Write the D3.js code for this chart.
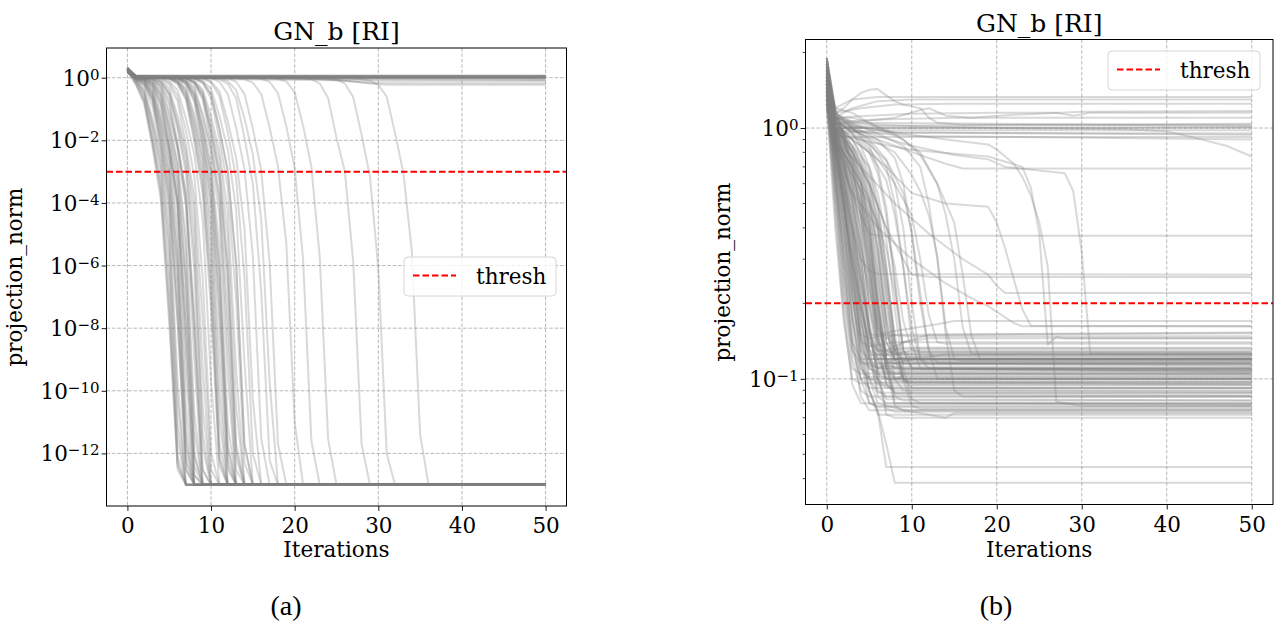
<!DOCTYPE html>
<html><head><meta charset="utf-8">
<script src="https://cdn.jsdelivr.net/npm/d3@7"></script>
<style>body{margin:0;background:#fff}svg{display:block}</style>
</head><body>
<svg id="c" width="1275" height="622"></svg>
<script>
// ---------------- data ----------------
const xTicks = [0, 10, 20, 30, 40, 50];
const leftYTickExp = [0, -2, -4, -6, -8, -10, -12];
const rightYTickExp = [0, -1];
const threshA = 1e-3;
const threshB = 0.2;
const titleText = "GN_b [RI]";
const xLabel = "Iterations";
const yLabel = "projection_norm";
const legendLabel = "thresh";
const captions = ["(a)", "(b)"];

// panel (a): each run = [iteration, projection_norm] vertices
const runsA = [
[[0,1.9],[1,0.8],[2,0.3],[3,0.02],[4,1e-3],[5,2e-6],[6,3e-12],[7,1e-13],[50,1e-13]],
[[0,1.6],[1,0.65],[2,0.18],[3,0.008],[4,2e-4],[5,3e-8],[6,4e-13],[7,1e-13],[50,1e-13]],
[[0,2.1],[1,0.9],[2,0.45],[3,0.05],[4,4e-3],[5,5e-5],[6,2e-10],[7,1e-13],[50,1e-13]],
[[0,1.7],[1,0.75],[2,0.25],[3,0.012],[4,5e-4],[5,4e-7],[6,8e-13],[7,1e-13],[50,1e-13]],
[[0,1.5],[1,0.85],[2,0.38],[3,0.035],[4,2.5e-3],[5,1.5e-5],[6,5e-11],[7,1e-13],[50,1e-13]],
[[0,1.8],[1,0.7],[2,0.2],[3,0.01],[4,3e-4],[5,1e-7],[6,5e-13],[7,1e-13],[50,1e-13]],
[[0,2.0],[1,0.88],[2,0.33],[3,0.028],[4,1.6e-3],[5,5e-6],[6,8e-12],[7,1e-13],[50,1e-13]],
[[0,1.75],[1,0.6],[2,0.15],[3,0.006],[4,1.2e-4],[5,1.5e-8],[6,3e-13],[7,1e-13],[50,1e-13]],
[[0,1.8],[1,0.95],[2,0.7],[3,0.26],[4,0.018],[5,7e-4],[6,8e-7],[7,1.5e-12],[8,1e-13],[50,1e-13]],
[[0,1.6],[1,0.98],[2,0.82],[3,0.4],[4,0.05],[5,4e-3],[6,6e-5],[7,4e-10],[8,1e-13],[50,1e-13]],
[[0,2.0],[1,0.9],[2,0.6],[3,0.18],[4,0.007],[5,1.5e-4],[6,2e-8],[7,3e-13],[8,1e-13],[50,1e-13]],
[[0,1.7],[1,1.0],[2,0.76],[3,0.32],[4,0.03],[5,1.8e-3],[6,4e-6],[7,6e-12],[8,1e-13],[50,1e-13]],
[[0,1.55],[1,0.96],[2,0.68],[3,0.22],[4,0.012],[5,4e-4],[6,2.5e-7],[7,7e-13],[8,1e-13],[50,1e-13]],
[[0,1.9],[1,1.02],[2,0.86],[3,0.48],[4,0.07],[5,6e-3],[6,1.2e-4],[7,2e-9],[8,1e-13],[50,1e-13]],
[[0,1.75],[1,0.94],[2,0.64],[3,0.2],[4,0.01],[5,2.5e-4],[6,6e-8],[7,5e-13],[8,1e-13],[50,1e-13]],
[[0,1.65],[1,0.99],[2,0.8],[3,0.36],[4,0.04],[5,2.8e-3],[6,1.5e-5],[7,3e-11],[8,1e-13],[50,1e-13]],
[[0,2.05],[1,0.97],[2,0.74],[3,0.28],[4,0.022],[5,1e-3],[6,1.5e-6],[7,2.5e-12],[8,1e-13],[50,1e-13]],
[[0,1.85],[1,0.92],[2,0.55],[3,0.12],[4,0.006],[5,1e-4],[6,1.5e-8],[7,3e-13],[8,1e-13],[50,1e-13]],
[[0,1.8],[1,1.06],[2,0.94],[3,0.68],[4,0.26],[5,0.02],[6,8e-4],[7,5e-7],[8,1e-12],[9,1e-13],[50,1e-13]],
[[0,1.6],[1,1.04],[2,0.9],[3,0.6],[4,0.17],[5,0.006],[6,1.2e-4],[7,1e-8],[8,2e-13],[9,1e-13],[50,1e-13]],
[[0,1.95],[1,1.08],[2,0.98],[3,0.8],[4,0.42],[5,0.06],[6,5e-3],[7,8e-5],[8,1e-9],[9,1e-13],[50,1e-13]],
[[0,1.7],[1,1.05],[2,0.93],[3,0.7],[4,0.3],[5,0.028],[6,1.5e-3],[7,3e-6],[8,5e-12],[9,1e-13],[50,1e-13]],
[[0,1.5],[1,1.03],[2,0.88],[3,0.55],[4,0.15],[5,0.009],[6,2.5e-4],[7,8e-8],[8,4e-13],[9,1e-13],[50,1e-13]],
[[0,2.1],[1,1.1],[2,0.99],[3,0.84],[4,0.5],[5,0.08],[6,7e-3],[7,2e-4],[8,6e-9],[9,1e-13],[50,1e-13]],
[[0,1.85],[1,1.06],[2,0.96],[3,0.74],[4,0.34],[5,0.035],[6,2e-3],[7,8e-6],[8,2e-11],[9,1e-13],[50,1e-13]],
[[0,1.65],[1,1.04],[2,0.92],[3,0.64],[4,0.22],[5,0.014],[6,5e-4],[7,3e-7],[8,8e-13],[9,1e-13],[50,1e-13]],
[[0,1.7],[1,1.02],[2,0.85],[3,0.52],[4,0.12],[5,0.005],[6,1e-4],[7,1e-8],[8,2e-13],[9,1e-13],[50,1e-13]],
[[0,1.75],[1,1.07],[2,1.0],[3,0.92],[4,0.7],[5,0.28],[6,0.022],[7,9e-4],[8,7e-7],[9,1.5e-12],[10,1e-13],[50,1e-13]],
[[0,1.6],[1,1.05],[2,0.98],[3,0.88],[4,0.6],[5,0.19],[6,0.008],[7,1.8e-4],[8,3e-8],[9,3e-13],[10,1e-13],[50,1e-13]],
[[0,1.9],[1,1.09],[3,0.98],[4,0.82],[5,0.45],[6,0.06],[7,4.5e-3],[8,5e-5],[9,6e-10],[10,1e-13],[50,1e-13]],
[[0,1.55],[1,1.04],[3,0.94],[4,0.72],[5,0.3],[6,0.03],[7,1.5e-3],[8,2.5e-6],[9,4e-12],[10,1e-13],[50,1e-13]],
[[0,2.0],[1,1.08],[3,0.96],[4,0.76],[5,0.36],[6,0.04],[7,2.8e-3],[8,1.2e-5],[9,3e-11],[10,1e-13],[50,1e-13]],
[[0,1.6],[1,1.05],[2,0.97],[3,0.86],[4,0.55],[5,0.14],[6,0.006],[7,1e-4],[8,1.5e-8],[9,3e-13],[10,1e-13],[50,1e-13]],
[[0,1.7],[1,1.08],[4,0.95],[5,0.7],[6,0.27],[7,0.02],[8,7e-4],[9,4e-7],[10,1e-12],[11,1e-13],[50,1e-13]],
[[0,1.85],[1,1.06],[4,0.97],[5,0.78],[6,0.4],[7,0.05],[8,3.5e-3],[9,3e-5],[10,2e-10],[11,1e-13],[50,1e-13]],
[[0,1.6],[1,1.07],[3,0.98],[4,0.9],[5,0.6],[6,0.18],[7,0.007],[8,1.5e-4],[9,2e-8],[10,3e-13],[11,1e-13],[50,1e-13]],
[[0,1.8],[1,1.1],[5,0.97],[6,0.74],[7,0.3],[8,0.025],[9,1.1e-3],[10,1.3e-6],[11,2e-12],[12,1e-13],[50,1e-13]],
[[0,1.6],[1,1.07],[4,0.97],[5,0.9],[6,0.62],[7,0.2],[8,0.009],[9,2e-4],[10,4e-8],[11,4e-13],[12,1e-13],[50,1e-13]],
[[0,1.95],[1,1.12],[5,0.99],[6,0.82],[7,0.46],[8,0.07],[9,5.5e-3],[10,7e-5],[11,1e-9],[12,1e-13],[50,1e-13]],
[[0,1.7],[1,1.08],[5,0.96],[6,0.7],[7,0.26],[8,0.018],[9,6e-4],[10,3e-7],[11,8e-13],[12,1e-13],[50,1e-13]],
[[0,1.5],[1,1.05],[5,0.97],[6,0.77],[7,0.35],[8,0.036],[9,2.2e-3],[10,6e-6],[11,1.2e-11],[12,1e-13],[50,1e-13]],
[[0,2.05],[1,1.1],[5,0.95],[6,0.68],[7,0.22],[8,0.012],[9,3.5e-4],[10,1.2e-7],[11,6e-13],[12,1e-13],[50,1e-13]],
[[0,1.65],[1,1.09],[5,0.98],[6,0.8],[7,0.4],[8,0.048],[9,3e-3],[10,2e-5],[11,8e-11],[12,1e-13],[50,1e-13]],
[[0,1.75],[1,1.1],[6,0.97],[7,0.74],[8,0.3],[9,0.024],[10,1e-3],[11,9e-7],[12,1.8e-12],[13,1e-13],[50,1e-13]],
[[0,1.9],[1,1.12],[6,0.98],[7,0.8],[8,0.42],[9,0.055],[10,4e-3],[11,4e-5],[12,3e-10],[13,1e-13],[50,1e-13]],
[[0,1.55],[1,1.06],[5,0.98],[6,0.9],[7,0.6],[8,0.17],[9,0.007],[10,1.3e-4],[11,1.5e-8],[12,3e-13],[13,1e-13],[50,1e-13]],
[[0,1.7],[1,1.09],[6,0.96],[7,0.72],[8,0.28],[9,0.02],[10,8e-4],[11,6e-7],[12,1.3e-12],[13,1e-13],[50,1e-13]],
[[0,2.0],[1,1.11],[6,0.99],[7,0.83],[8,0.48],[9,0.07],[10,6e-3],[11,1.2e-4],[12,3e-9],[13,1e-13],[50,1e-13]],
[[0,1.6],[1,1.07],[6,0.95],[7,0.67],[8,0.23],[9,0.013],[10,4e-4],[11,1.5e-7],[12,6e-13],[13,1e-13],[50,1e-13]],
[[0,1.8],[1,1.1],[6,0.97],[7,0.76],[8,0.33],[9,0.032],[10,1.8e-3],[11,4e-6],[12,9e-12],[13,1e-13],[50,1e-13]],
[[0,1.45],[1,1.05],[6,0.94],[7,0.64],[8,0.2],[9,0.01],[10,2.5e-4],[11,5e-8],[12,4e-13],[13,1e-13],[50,1e-13]],
[[0,1.7],[1,1.1],[7,0.97],[8,0.74],[9,0.3],[10,0.024],[11,1.1e-3],[12,1.3e-6],[13,2e-12],[14,1e-13],[50,1e-13]],
[[0,1.85],[1,1.12],[7,0.98],[8,0.8],[9,0.42],[10,0.06],[11,4.5e-3],[12,5e-5],[13,5e-10],[14,1e-13],[50,1e-13]],
[[0,1.6],[1,1.07],[7,0.95],[8,0.68],[9,0.24],[10,0.015],[11,5e-4],[12,2e-7],[13,7e-13],[14,1e-13],[50,1e-13]],
[[0,1.95],[1,1.1],[6,0.98],[7,0.9],[8,0.62],[9,0.2],[10,0.008],[11,1.6e-4],[12,2e-8],[13,3e-13],[14,1e-13],[50,1e-13]],
[[0,1.5],[1,1.06],[7,0.97],[8,0.77],[9,0.35],[10,0.035],[11,2.4e-3],[12,9e-6],[13,3e-11],[14,1e-13],[50,1e-13]],
[[0,1.75],[1,1.09],[7,0.96],[8,0.7],[9,0.27],[10,0.02],[11,8e-4],[12,6e-7],[13,1.2e-12],[14,1e-13],[50,1e-13]],
[[0,1.8],[1,1.1],[8,0.97],[9,0.74],[10,0.3],[11,0.024],[12,1.1e-3],[13,1.3e-6],[14,2e-12],[15,1e-13],[50,1e-13]],
[[0,1.6],[1,1.08],[7,0.98],[8,0.92],[9,0.66],[10,0.22],[11,0.011],[12,3e-4],[13,8e-8],[14,5e-13],[15,1e-13],[50,1e-13]],
[[0,1.9],[1,1.11],[8,0.98],[9,0.8],[10,0.44],[11,0.06],[12,5e-3],[13,6e-5],[14,8e-10],[15,1e-13],[50,1e-13]],
[[0,1.7],[1,1.09],[8,0.97],[9,0.73],[10,0.29],[11,0.023],[12,1e-3],[13,1e-6],[14,1.8e-12],[15,1e-13],[50,1e-13]],
[[0,1.75],[1,1.1],[9,0.97],[10,0.76],[11,0.36],[12,0.04],[13,2.8e-3],[14,1.5e-5],[15,5e-11],[16,1e-13],[50,1e-13]],
[[0,1.55],[1,1.07],[9,0.96],[10,0.7],[11,0.26],[12,0.018],[13,6e-4],[14,4e-7],[15,1e-12],[16,1e-13],[50,1e-13]],
[[0,1.85],[1,1.1],[10,0.97],[11,0.74],[12,0.3],[13,0.025],[14,1.2e-3],[15,2e-6],[16,3e-12],[17,1e-13],[50,1e-13]],
[[0,1.65],[1,1.09],[11,0.97],[12,0.78],[13,0.4],[14,0.05],[15,3.5e-3],[16,3e-5],[17,2e-10],[18,1e-13],[50,1e-13]],
[[0,1.9],[1,1.11],[10,0.98],[11,0.9],[12,0.64],[13,0.22],[14,0.012],[15,4e-4],[16,1.5e-7],[17,6e-13],[18,1e-13],[50,1e-13]],
[[0,1.7],[1,1.1],[12,0.97],[13,0.74],[14,0.3],[15,0.024],[16,1.1e-3],[17,1.3e-6],[18,2e-12],[19,1e-13],[50,1e-13]],
[[0,1.8],[1,1.1],[13,0.98],[14,0.9],[15,0.7],[16,0.3],[17,0.026],[18,1.5e-3],[19,5e-6],[20,1e-11],[21,1e-13],[50,1e-13]],
[[0,1.6],[1,1.08],[15,0.98],[16,0.92],[17,0.74],[18,0.32],[19,0.028],[20,1.3e-3],[21,1.6e-6],[22,2.5e-12],[23,1e-13],[50,1e-13]],
[[0,1.9],[1,1.12],[17,0.99],[18,0.93],[19,0.76],[20,0.34],[21,0.03],[22,1.4e-3],[23,1.8e-6],[24,2.8e-12],[25,1e-13],[50,1e-13]],
[[0,1.75],[1,1.1],[20,1.0],[21,0.97],[22,0.9],[23,0.65],[24,0.22],[25,0.012],[26,1e-3],[27,1.3e-6],[28,2e-12],[29,1e-13],[50,1e-13]],
[[0,1.65],[1,1.09],[23,0.99],[24,0.96],[25,0.88],[26,0.65],[27,0.24],[28,0.015],[29,7e-4],[30,8e-7],[31,1e-12],[32,1e-13],[50,1e-13]],
[[0,1.8],[1,1.1],[26,0.98],[27,0.95],[28,0.9],[29,0.8],[30,0.59],[31,0.25],[32,0.017],[33,9e-4],[34,3e-6],[35,4e-12],[36,1e-13],[50,1e-13]],
[[0,1.9],[1,1.14],[10,1.12],[50,1.1]],
[[0,1.6],[1,1.06],[20,1.03],[50,1.02]],
[[0,2.0],[1,1.16],[50,1.15]],
[[0,1.75],[1,1.1],[15,1.08],[50,1.07]],
[[0,1.5],[1,1.02],[50,1.0]],
[[0,1.85],[1,1.12],[8,1.1],[50,1.12]],
[[0,1.65],[1,1.08],[25,1.05],[50,1.05]],
[[0,2.1],[1,1.18],[50,1.17]],
[[0,1.55],[1,1.0],[12,0.98],[50,0.97]],
[[0,1.7],[1,1.04],[30,1.02],[50,1.01]],
[[0,1.95],[1,1.1],[50,1.09]],
[[0,1.8],[1,1.05],[20,0.95],[50,0.9]],
[[0,1.6],[1,1.0],[15,0.92],[50,0.85]],
[[0,1.45],[1,0.98],[10,0.9],[30,0.8],[50,0.78]],
[[0,1.7],[1,1.0],[22,0.92],[26,0.8],[28,0.7],[30,0.62],[31,0.6],[50,0.6]],
[[0,1.9],[1,1.08],[18,1.0],[24,0.9],[27,0.75],[29,0.68],[50,0.66]],
[[0,1.75],[1,1.12],[50,1.13]],
[[0,1.5],[1,1.03],[40,1.0],[50,0.99]],
[[0,2.05],[1,1.13],[50,1.11]],
[[0,1.65],[1,1.07],[35,1.04],[50,1.04]]
];

// panel (b)
const runsB = [
[[0,1.25],[1,0.4],[2,0.17],[3,0.1],[4,0.096],[50,0.096]],
[[0,1.4],[1,0.5],[2,0.2],[3,0.11],[4,0.105],[50,0.105]],
[[0,1.6],[1,0.6],[2,0.24],[3,0.12],[4,0.09],[5,0.085],[50,0.085]],
[[0,1.3],[1,0.45],[2,0.18],[3,0.095],[4,0.08],[50,0.079]],
[[0,1.7],[1,0.7],[2,0.3],[3,0.14],[4,0.1],[5,0.092],[50,0.092]],
[[0,1.5],[1,0.55],[2,0.22],[3,0.13],[4,0.115],[50,0.115]],
[[0,1.8],[1,0.8],[2,0.4],[3,0.18],[4,0.11],[5,0.1],[50,0.1]],
[[0,1.35],[1,0.65],[2,0.3],[3,0.15],[4,0.085],[5,0.075],[50,0.075]],
[[0,1.55],[1,0.75],[2,0.38],[3,0.2],[4,0.13],[5,0.12],[50,0.12]],
[[0,1.9],[1,0.9],[2,0.5],[3,0.25],[4,0.14],[5,0.11],[6,0.105],[50,0.104]],
[[0,1.45],[1,0.85],[2,0.45],[3,0.22],[4,0.12],[5,0.08],[6,0.077],[50,0.077]],
[[0,1.65],[1,0.95],[2,0.55],[3,0.28],[4,0.15],[5,0.125],[50,0.124]],
[[0,1.2],[1,0.7],[2,0.35],[3,0.17],[4,0.11],[5,0.1],[6,0.097],[50,0.097]],
[[0,1.75],[1,1.0],[2,0.6],[3,0.32],[4,0.17],[5,0.12],[6,0.11],[50,0.11]],
[[0,1.5],[1,0.9],[2,0.5],[3,0.3],[4,0.18],[5,0.12],[6,0.09],[7,0.085],[50,0.085]],
[[0,1.6],[1,1.05],[2,0.7],[3,0.4],[4,0.22],[5,0.13],[6,0.115],[50,0.115]],
[[0,1.3],[1,0.8],[2,0.55],[3,0.35],[4,0.2],[5,0.12],[6,0.1],[7,0.092],[50,0.092]],
[[0,1.85],[1,1.1],[2,0.75],[3,0.45],[4,0.25],[5,0.15],[6,0.13],[7,0.128],[50,0.128]],
[[0,1.4],[1,0.95],[2,0.65],[3,0.42],[4,0.26],[5,0.16],[6,0.1],[7,0.083],[50,0.082]],
[[0,1.55],[1,1.0],[2,0.8],[3,0.55],[4,0.33],[5,0.19],[6,0.13],[7,0.12],[50,0.12]],
[[0,1.7],[1,1.1],[2,0.85],[3,0.6],[4,0.38],[5,0.2],[6,0.12],[7,0.1],[8,0.098],[50,0.098]],
[[0,1.25],[1,0.9],[2,0.7],[3,0.5],[4,0.3],[5,0.17],[6,0.11],[7,0.072],[8,0.07],[50,0.07]],
[[0,1.5],[1,1.0],[2,0.9],[3,0.7],[4,0.5],[5,0.3],[6,0.17],[7,0.13],[8,0.126],[50,0.126]],
[[0,1.8],[1,1.15],[2,0.95],[3,0.75],[4,0.55],[5,0.33],[6,0.18],[7,0.12],[8,0.11],[50,0.108]],
[[0,1.35],[1,0.85],[2,0.6],[3,0.4],[4,0.24],[5,0.15],[6,0.15],[8,0.155],[13,0.165],[15,0.17],[50,0.17]],
[[0,1.6],[1,0.9],[2,0.5],[3,0.25],[4,0.15],[5,0.145],[7,0.15],[10,0.148],[50,0.148]],
[[0,1.45],[1,0.75],[2,0.42],[3,0.21],[4,0.14],[5,0.135],[8,0.14],[50,0.14]],
[[0,1.9],[1,1.2],[2,0.9],[3,0.6],[4,0.36],[5,0.2],[6,0.14],[7,0.116],[50,0.116]],
[[0,1.3],[1,0.6],[2,0.32],[3,0.17],[4,0.1],[5,0.08],[6,0.078],[50,0.078]],
[[0,1.65],[1,0.85],[2,0.48],[3,0.26],[4,0.15],[5,0.1],[6,0.088],[50,0.088]],
[[0,1.5],[1,0.8],[2,0.5],[3,0.3],[4,0.2],[5,0.14],[6,0.12],[7,0.105],[50,0.105]],
[[0,1.75],[1,0.95],[2,0.62],[3,0.4],[4,0.25],[5,0.16],[6,0.12],[7,0.12],[9,0.118],[50,0.118]],
[[0,1.4],[1,1.0],[2,0.75],[3,0.52],[4,0.34],[5,0.22],[6,0.14],[7,0.095],[8,0.088],[50,0.088]],
[[0,1.2],[1,0.55],[2,0.26],[3,0.14],[4,0.12],[50,0.12]],
[[0,1.55],[1,0.65],[2,0.28],[3,0.13],[4,0.1],[5,0.102],[50,0.102]],
[[0,1.7],[1,1.05],[2,0.78],[3,0.52],[4,0.3],[5,0.16],[6,0.1],[7,0.076],[8,0.074],[50,0.074]],
[[0,1.35],[1,0.9],[2,0.62],[3,0.38],[4,0.22],[5,0.13],[6,0.095],[7,0.094],[50,0.094]],
[[0,1.6],[1,1.1],[2,0.9],[3,0.68],[4,0.45],[5,0.27],[6,0.16],[7,0.125],[8,0.12],[50,0.12]],
[[0,1.45],[1,0.95],[2,0.7],[3,0.45],[4,0.27],[5,0.15],[6,0.11],[7,0.113],[9,0.11],[50,0.11]],
[[0,1.8],[1,1.0],[2,0.65],[3,0.38],[4,0.2],[5,0.13],[6,0.085],[7,0.08],[50,0.08]],
[[0,1.4],[1,0.8],[2,0.45],[3,0.23],[4,0.13],[5,0.09],[6,0.074],[7,0.0445],[50,0.0445]],
[[0,1.55],[1,0.9],[2,0.5],[3,0.26],[4,0.14],[5,0.09],[6,0.075],[7,0.055],[8,0.0385],[50,0.0385]],
[[0,1.3],[1,0.75],[2,0.48],[3,0.3],[4,0.19],[5,0.14],[6,0.13],[7,0.13],[9,0.133],[50,0.133]],
[[0,1.65],[1,1.0],[2,0.72],[3,0.5],[4,0.34],[5,0.23],[6,0.16],[7,0.145],[8,0.15],[50,0.152]],
[[0,1.5],[1,0.85],[2,0.55],[3,0.34],[4,0.2],[5,0.13],[6,0.125],[50,0.125]],
[[0,1.25],[1,0.7],[2,0.4],[3,0.22],[4,0.12],[5,0.09],[6,0.072],[50,0.072]],
[[0,1.9],[1,1.2],[2,0.95],[3,0.7],[4,0.45],[5,0.26],[6,0.15],[7,0.11],[8,0.1],[50,0.1]],
[[0,1.4],[1,0.8],[2,0.5],[3,0.28],[4,0.17],[5,0.115],[6,0.11],[50,0.11]],
[[0,1.7],[1,0.9],[2,0.55],[3,0.3],[4,0.15],[5,0.11],[6,0.107],[50,0.107]],
[[0,1.35],[1,0.65],[2,0.35],[3,0.18],[4,0.118],[5,0.112],[50,0.112]],
[[0,1.5],[1,0.95],[2,0.8],[3,0.7],[4,0.6],[5,0.45],[6,0.26],[7,0.14],[8,0.12],[50,0.12]],
[[0,1.7],[1,1.0],[2,0.85],[3,0.72],[4,0.55],[5,0.35],[6,0.18],[7,0.11],[8,0.105],[50,0.105]],
[[0,1.4],[1,0.9],[2,0.75],[3,0.6],[4,0.48],[5,0.3],[6,0.15],[7,0.095],[8,0.09],[50,0.09]],
[[0,1.8],[1,1.1],[2,0.95],[3,0.85],[4,0.72],[5,0.55],[6,0.38],[7,0.2],[8,0.13],[9,0.118],[50,0.118]],
[[0,1.6],[1,0.98],[2,0.82],[3,0.66],[4,0.5],[5,0.3],[6,0.16],[7,0.125],[8,0.13],[10,0.132],[50,0.132]],
[[0,1.3],[1,0.85],[2,0.7],[3,0.55],[4,0.4],[5,0.24],[6,0.13],[7,0.1],[50,0.1]],
[[0,1.55],[1,1.05],[2,0.92],[3,0.8],[4,0.65],[5,0.48],[6,0.3],[7,0.16],[8,0.115],[50,0.113]],
[[0,1.75],[1,1.1],[3,0.95],[4,0.85],[5,0.7],[6,0.5],[7,0.28],[8,0.14],[9,0.1],[10,0.097],[50,0.097]],
[[0,1.45],[1,0.92],[2,0.78],[3,0.62],[4,0.45],[5,0.28],[6,0.15],[7,0.115],[8,0.12],[11,0.123],[50,0.123]],
[[0,1.65],[1,1.0],[2,0.88],[3,0.75],[4,0.6],[5,0.42],[6,0.22],[7,0.12],[8,0.085],[9,0.082],[50,0.082]],
[[0,1.9],[1,1.15],[3,1.0],[5,0.85],[6,0.7],[7,0.48],[8,0.25],[9,0.13],[10,0.11],[50,0.11]],
[[0,1.35],[1,0.88],[2,0.72],[3,0.58],[4,0.42],[5,0.25],[6,0.14],[7,0.13],[9,0.14],[12,0.145],[50,0.145]],
[[0,1.5],[1,0.95],[2,0.85],[3,0.74],[4,0.6],[5,0.4],[6,0.21],[7,0.12],[8,0.078],[9,0.075],[50,0.075]],
[[0,1.7],[1,1.05],[3,0.9],[4,0.78],[5,0.62],[6,0.42],[7,0.23],[8,0.13],[9,0.1],[10,0.092],[50,0.092]],
[[0,1.6],[1,1.0],[2,0.9],[3,0.82],[4,0.7],[5,0.52],[6,0.33],[7,0.17],[8,0.12],[9,0.108],[50,0.108]],
[[0,1.25],[1,0.8],[2,0.62],[3,0.46],[4,0.3],[5,0.16],[6,0.105],[7,0.1],[50,0.1]],
[[0,1.45],[1,0.9],[2,0.8],[3,0.7],[4,0.56],[5,0.38],[6,0.2],[7,0.12],[8,0.115],[10,0.12],[14,0.125],[50,0.125]],
[[0,1.8],[1,1.08],[2,0.95],[3,0.8],[4,0.62],[5,0.4],[6,0.2],[7,0.11],[8,0.08],[50,0.079]],
[[0,1.5],[1,0.9],[2,0.6],[3,0.35],[4,0.18],[5,0.1],[6,0.08],[9,0.075],[14,0.07],[15,0.073],[50,0.073]],
[[0,1.55],[1,1.05],[2,0.95],[3,0.85],[4,0.74],[5,0.6],[6,0.44],[7,0.26],[8,0.14],[9,0.115],[50,0.114]],
[[0,1.7],[1,1.1],[3,0.95],[5,0.8],[6,0.66],[7,0.45],[8,0.24],[9,0.13],[10,0.12],[50,0.121]],
[[0,1.4],[1,0.95],[2,0.85],[3,0.76],[4,0.65],[5,0.5],[6,0.32],[7,0.17],[8,0.1],[9,0.09],[50,0.089]],
[[0,1.85],[1,1.12],[3,1.0],[5,0.88],[7,0.7],[8,0.5],[9,0.28],[10,0.14],[11,0.11],[50,0.106]],
[[0,1.3],[1,0.9],[2,0.78],[3,0.66],[4,0.52],[5,0.36],[6,0.2],[7,0.12],[8,0.1],[9,0.103],[50,0.103]],
[[0,1.6],[1,1.0],[2,0.9],[3,0.8],[4,0.68],[5,0.52],[6,0.34],[7,0.18],[8,0.125],[10,0.13],[50,0.13]],
[[0,1.5],[1,0.98],[3,0.85],[5,0.7],[6,0.55],[7,0.36],[8,0.19],[9,0.11],[10,0.083],[11,0.08],[50,0.08]],
[[0,1.75],[1,1.08],[3,0.96],[5,0.86],[7,0.74],[8,0.6],[9,0.4],[10,0.2],[11,0.12],[12,0.11],[50,0.11]],
[[0,1.45],[1,0.92],[2,0.8],[3,0.68],[4,0.55],[5,0.4],[6,0.24],[7,0.14],[8,0.12],[9,0.122],[50,0.122]],
[[0,1.65],[1,1.02],[2,0.92],[3,0.83],[4,0.72],[5,0.58],[6,0.4],[7,0.22],[8,0.12],[9,0.097],[50,0.095]],
[[0,1.35],[1,0.88],[2,0.76],[3,0.64],[4,0.5],[5,0.34],[6,0.19],[7,0.11],[8,0.087],[50,0.086]],
[[0,1.9],[1,1.15],[3,1.02],[6,0.9],[8,0.76],[9,0.6],[10,0.38],[11,0.2],[12,0.13],[13,0.116],[50,0.116]],
[[0,1.5],[1,1.0],[2,0.88],[3,0.76],[4,0.62],[5,0.45],[6,0.27],[7,0.15],[8,0.13],[9,0.14],[12,0.15],[50,0.153]],
[[0,1.6],[1,1.05],[3,0.9],[4,0.8],[5,0.66],[6,0.48],[7,0.28],[8,0.15],[9,0.1],[10,0.078],[11,0.076],[50,0.076]],
[[0,1.6],[1,1.0],[3,0.9],[5,0.8],[7,0.62],[8,0.45],[9,0.28],[10,0.16],[11,0.12],[12,0.115],[50,0.115]],
[[0,1.5],[1,1.1],[3,1.0],[5,0.9],[7,0.75],[9,0.55],[10,0.38],[11,0.22],[12,0.13],[13,0.1],[50,0.1]],
[[0,1.75],[1,1.05],[4,0.95],[8,0.8],[10,0.65],[11,0.56],[12,0.45],[13,0.31],[14,0.16],[15,0.12],[16,0.118],[50,0.118]],
[[0,1.3],[1,0.95],[3,0.8],[5,0.6],[7,0.4],[8,0.28],[9,0.17],[10,0.13],[11,0.128],[50,0.128]],
[[0,1.45],[1,1.0],[4,0.9],[6,0.75],[8,0.6],[10,0.45],[11,0.3],[12,0.18],[13,0.14],[14,0.138],[50,0.138]],
[[0,1.85],[1,1.15],[3,1.05],[6,0.95],[9,0.85],[11,0.7],[12,0.5],[13,0.3],[14,0.15],[15,0.09],[16,0.085],[50,0.085]],
[[0,1.55],[1,0.9],[3,0.7],[5,0.52],[6,0.4],[7,0.25],[8,0.14],[9,0.1],[10,0.095],[50,0.095]],
[[0,1.65],[1,1.1],[3,1.1],[5,1.05],[8,0.95],[11,0.8],[13,0.6],[14,0.45],[15,0.3],[16,0.16],[17,0.126],[50,0.126]],
[[0,1.4],[1,0.85],[3,0.65],[5,0.5],[6,0.42],[7,0.33],[8,0.22],[9,0.13],[10,0.11],[50,0.108]],
[[0,1.7],[1,1.2],[3,1.15],[6,1.0],[9,0.9],[11,0.78],[13,0.6],[15,0.42],[16,0.26],[17,0.15],[18,0.12],[50,0.12]],
[[0,1.5],[1,0.9],[2,0.7],[3,0.55],[4,0.45],[5,0.38],[6,0.372],[50,0.372]],
[[0,1.35],[1,0.8],[2,0.55],[3,0.4],[4,0.3],[5,0.27],[6,0.262],[50,0.26]],
[[0,1.6],[1,1.0],[3,0.8],[5,0.6],[7,0.4],[9,0.3],[10,0.26],[12,0.255],[50,0.255]],
[[0,1.7],[1,1.05],[4,0.95],[8,0.85],[11,0.78],[14,0.72],[16,0.69],[50,0.69]],
[[0,1.5],[1,1.0],[4,0.85],[7,0.7],[10,0.55],[14,0.5],[19,0.485],[20,0.42],[21,0.33],[22,0.25],[23,0.19],[24,0.163],[50,0.162]],
[[0,1.65],[1,1.1],[4,1.0],[9,0.95],[14,0.9],[19,0.86],[20,0.82],[21,0.77],[22,0.72],[23,0.64],[24,0.54],[25,0.42],[26,0.28],[27,0.081],[30,0.078],[50,0.078]],
[[0,1.4],[1,0.95],[5,0.88],[10,0.82],[15,0.79],[19,0.77],[23,0.7],[24,0.58],[25,0.38],[26,0.137],[27,0.147],[28,0.145],[50,0.145]],
[[0,1.8],[1,1.05],[5,0.95],[10,0.85],[15,0.78],[19,0.75],[21,0.7],[28,0.66],[29,0.56],[30,0.32],[31,0.126],[50,0.126]],
[[0,1.45],[1,0.9],[4,0.7],[8,0.5],[12,0.38],[16,0.3],[19,0.26],[20,0.235],[21,0.22],[50,0.22]],
[[0,1.55],[1,0.8],[3,0.55],[6,0.4],[10,0.3],[14,0.24],[17,0.21],[19,0.195],[22,0.167],[23,0.162],[50,0.162]],
[[0,1.6],[1,1.2],[3,1.3],[6,1.33],[10,1.33],[50,1.33]],
[[0,1.4],[1,1.1],[3,1.2],[6,1.28],[10,1.3],[50,1.3]],
[[0,1.5],[1,1.15],[4,1.2],[8,1.24],[15,1.25],[50,1.25]],
[[0,1.45],[1,1.15],[2,1.2],[3,1.3],[4,1.38],[5,1.42],[6,1.43],[7,1.35],[8,1.28],[9,1.24],[10,1.22],[11,1.2],[12,1.1],[13,1.05],[16,1.03],[50,1.03]],
[[0,1.7],[1,1.1],[5,1.12],[10,1.14],[20,1.15],[27,1.15],[29,1.12],[31,1.15],[50,1.15]],
[[0,1.3],[1,1.05],[5,1.08],[15,1.1],[50,1.1]],
[[0,1.55],[1,1.0],[5,1.02],[50,1.04]],
[[0,1.9],[1,1.1],[4,1.05],[50,1.02]],
[[0,1.35],[1,1.0],[50,1.0]],
[[0,1.6],[1,0.95],[6,0.98],[50,0.98]],
[[0,1.45],[1,1.0],[5,0.96],[50,0.95]],
[[0,1.75],[1,1.05],[8,0.96],[50,0.94]],
[[0,1.25],[1,0.92],[50,0.92]],
[[0,1.5],[1,0.98],[10,0.93],[50,0.9]],
[[0,1.65],[1,1.05],[10,1.02],[20,1.0],[35,0.99],[40,0.97],[43,0.92],[47,0.85],[50,0.77]],
[[0,1.85],[1,1.0],[50,1.01]],
[[0,1.55],[1,1.1],[3,1.05],[8,1.1],[11,1.18],[12,1.2],[14,1.12],[17,1.1],[22,1.13],[30,1.16],[50,1.17]]
];

// ---------------- drawing ----------------
const svg = d3.select('#c');
svg.append('rect').attr('width',1275).attr('height',622).attr('fill','#fff');
const FONT = 'DejaVu Serif';
const FS = 21.5;

function drawPanel(o, idx) {
  const x = d3.scaleLinear().domain([-2.5, 52.5]).range([o.left, o.right]);
  const y = d3.scaleLog().domain(o.yDomain).range([o.bottom, o.top]);
  const g = svg.append('g');
  const yTickVals = o.yTickExp.map(e => Math.pow(10, e));

  g.append('g').selectAll('line').data(xTicks).join('line')
    .attr('x1', d => x(d)).attr('x2', d => x(d)).attr('y1', o.top).attr('y2', o.bottom)
    .attr('stroke', '#b0b0b0').attr('stroke-width', 0.9).attr('stroke-dasharray', '3.6,1.8');
  g.append('g').selectAll('line').data(yTickVals).join('line')
    .attr('x1', o.left).attr('x2', o.right).attr('y1', d => y(d)).attr('y2', d => y(d))
    .attr('stroke', '#b0b0b0').attr('stroke-width', 0.9).attr('stroke-dasharray', '3.6,1.8');

  const cid = 'clip' + idx;
  svg.append('clipPath').attr('id', cid).append('rect')
    .attr('x', o.left).attr('y', o.top).attr('width', o.right - o.left).attr('height', o.bottom - o.top);

  const line = d3.line().x(d => x(d[0])).y(d => y(d[1]));
  g.append('g').attr('clip-path', `url(#${cid})`).selectAll('path').data(o.runs).join('path')
    .attr('d', line).attr('fill', 'none').attr('stroke', '#808080')
    .attr('stroke-opacity', 0.3).attr('stroke-width', 2).attr('stroke-linejoin', 'round');

  g.append('line').attr('x1', o.left).attr('x2', o.right)
    .attr('y1', y(o.thresh)).attr('y2', y(o.thresh))
    .attr('stroke', '#ff0000').attr('stroke-width', 2).attr('stroke-dasharray', '6.5,3');

  const xa = g.append('g').attr('transform', `translate(0,${o.bottom})`)
    .call(d3.axisBottom(x).tickValues(xTicks).tickSize(4.9).tickPadding(7).tickFormat(d3.format('d')));
  xa.select('.domain').remove();
  xa.selectAll('line').attr('stroke', '#000').attr('stroke-width', 0.9);
  xa.selectAll('text').attr('font-family', FONT).attr('font-size', FS).attr('fill', '#000');

  const ya = g.append('g').attr('transform', `translate(${o.left},0)`)
    .call(d3.axisLeft(y).tickValues(yTickVals).tickSize(4.9).tickFormat(() => ''));
  ya.select('.domain').remove();
  ya.selectAll('line').attr('stroke', '#000').attr('stroke-width', 0.9);
  if (o.minor) {
    const minors = y.ticks().filter(v => Math.abs(Math.log10(v) - Math.round(Math.log10(v))) > 1e-6);
    g.append('g').selectAll('line').data(minors).join('line')
      .attr('x1', o.left - 2.8).attr('x2', o.left).attr('y1', d => y(d)).attr('y2', d => y(d))
      .attr('stroke', '#000').attr('stroke-width', 0.7);
  }
  o.yTickExp.forEach(e => {
    const t = g.append('text').attr('x', o.left - 7).attr('y', y(Math.pow(10, e)) + 8)
      .attr('text-anchor', 'end').attr('font-family', FONT).attr('font-size', FS).attr('fill', '#000');
    t.append('tspan').text('10');
    t.append('tspan').attr('dy', -6).attr('font-size', 15).text(e < 0 ? '\u2212' + (-e) : String(e));
  });

  g.append('rect').attr('x', o.left).attr('y', o.top)
    .attr('width', o.right - o.left).attr('height', o.bottom - o.top)
    .attr('fill', 'none').attr('stroke', '#000').attr('stroke-width', 1);

  const cx = (o.left + o.right) / 2;
  g.append('text').attr('x', cx).attr('y', o.titleY).attr('text-anchor', 'middle')
    .attr('font-family', FONT).attr('font-size', 25).attr('fill', '#000').text(titleText);
  g.append('text').attr('x', cx).attr('y', 557).attr('text-anchor', 'middle')
    .attr('font-family', FONT).attr('font-size', FS).attr('fill', '#000').text(xLabel);
  g.append('text').attr('transform', `translate(${o.yLabelX},${(o.top + o.bottom) / 2}) rotate(-90)`)
    .attr('text-anchor', 'middle').attr('font-family', FONT).attr('font-size', FS).attr('fill', '#000').text(yLabel);

  const L = g.append('g').attr('transform', `translate(${o.legend[0]},${o.legend[1]})`);
  L.append('rect').attr('width', 152).attr('height', 39).attr('rx', 4)
    .attr('fill', '#fff').attr('fill-opacity', 0.8).attr('stroke', '#d6d6d6').attr('stroke-width', 1);
  L.append('line').attr('x1', 9).attr('x2', 52).attr('y1', 18.5).attr('y2', 18.5)
    .attr('stroke', '#ff0000').attr('stroke-width', 2).attr('stroke-dasharray', '6.5,3');
  L.append('text').attr('x', 72).attr('y', 26.5).attr('font-family', FONT).attr('font-size', FS)
    .attr('fill', '#000').text(legendLabel);

  svg.append('text').attr('x', o.capX).attr('y', 615).attr('text-anchor', 'middle')
    .attr('font-family', 'Liberation Serif').attr('font-size', 28).attr('fill', '#000').text(captions[idx]);
}

drawPanel({
  left: 106.5, right: 566.5, top: 48, bottom: 506,
  yDomain: [Math.pow(10, -13.68), Math.pow(10, 0.949)],
  yTickExp: leftYTickExp, thresh: threshA, runs: runsA, minor: false,
  titleY: 40, yLabelX: 22, legend: [404, 257], capX: 286
}, 0);

drawPanel({
  left: 805.5, right: 1273, top: 39.5, bottom: 504.5,
  yDomain: [Math.pow(10, -1.501), Math.pow(10, 0.353)],
  yTickExp: rightYTickExp, thresh: threshB, runs: runsB, minor: true,
  titleY: 32, yLabelX: 730, legend: [1108, 51], capX: 996
}, 1);
</script>
</body></html>
